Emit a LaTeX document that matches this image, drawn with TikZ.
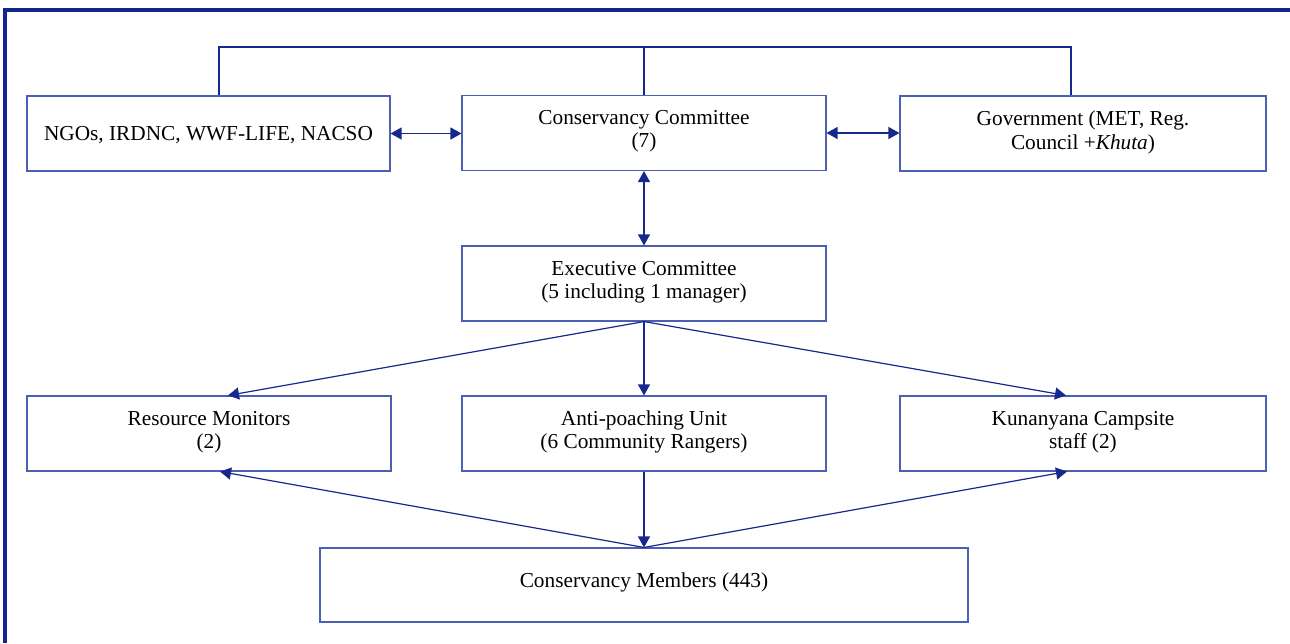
\documentclass[tikz,border=0pt]{standalone}
\usepackage{fontspec}
\setmainfont{Liberation Serif}
\usetikzlibrary{arrows.meta,calc}
\definecolor{framec}{RGB}{20,38,140}
\definecolor{boxc}{RGB}{75,95,180}
\definecolor{arrc}{RGB}{22,40,140}
\tikzset{
  box/.style={draw=boxc, line width=1.1pt, minimum width=364pt, minimum height=75pt, inner sep=0pt},
  lbl/.style={align=center, font=\fontsize{21.3}{23.5}\selectfont, inner sep=0pt, text=black},
  conn/.style={draw=arrc, line width=1.2pt},
  arr/.style={conn, -{Triangle[length=11pt,width=12pt]}},
  darr/.style={conn, {Triangle[length=11pt,width=12pt]}-{Triangle[length=11pt,width=12pt]}},
}
\begin{document}
\begin{tikzpicture}[x=1pt,y=-1pt]
\useasboundingbox (0,0) rectangle (1290,643);
\draw[framec, line width=3.2pt] (5,643) -- (5,10) -- (1290,10);

\node[box, minimum width=363pt] (ngo) at (208.5,133.5) {};
\node[box] (cc) at (644,133) {};
\node[box, minimum width=366pt] (gov) at (1083,133.5) {};
\node[box] (exec) at (644,283.5) {};
\node[box] (res) at (209,433.5) {};
\node[box] (anti) at (644,433.5) {};
\node[box, minimum width=366pt] (kun) at (1083,433.5) {};
\node[box, minimum width=648pt, minimum height=74pt] (mem) at (644,585) {};

\node[lbl] (ngot) at ([yshift=-1.5pt]ngo.center) {NGOs, IRDNC, WWF-LIFE, NACSO};
\node[lbl] (cct) at ([yshift=2pt]cc.center) {Conservancy Committee\\(7)};
\node[lbl] (govt) at ([yshift=1pt]gov.center) {Government (MET, Reg.\\Council +\textit{Khuta})};
\node[lbl] (exect) at ([yshift=1.5pt]exec.center) {Executive Committee\\(5 including 1 manager)};
\node[lbl] (rest) at ([yshift=1.5pt]res.center) {Resource Monitors\\(2)};
\node[lbl] (antit) at ([yshift=1.5pt]anti.center) {Anti-poaching Unit\\(6 Community Rangers)};
\node[lbl] (kunt) at ([yshift=1.5pt]kun.center) {Kunanyana Campsite\\staff (2)};
\node[lbl] (memt) at ([yshift=3pt]mem.center) {Conservancy Members (443)};

\coordinate (topl) at (219,47);
\draw[conn] ([xshift=10.5pt]ngo.north) -- (topl) -| ([xshift=-12pt]gov.north);
\draw[conn] (cc.north) -- (cc.north |- topl);

\draw[darr] (ngo.east) -- (ngo.east -| cc.west);
\draw[darr] (cc.east) -- (cc.east -| gov.west);
\draw[darr] (cc.south) -- (exec.north);

\draw[arr] (exec.south) -- ([xshift=19pt]res.north);
\draw[arr] (exec.south) -- (anti.north);
\draw[arr] (exec.south) -- ([xshift=-17pt]kun.north);

\draw[arr] (anti.south) -- (mem.north);
\draw[arr] (mem.north) -- ([xshift=11pt]res.south);
\draw[arr] (mem.north) -- ([xshift=-16pt]kun.south);
\end{tikzpicture}
\end{document}
